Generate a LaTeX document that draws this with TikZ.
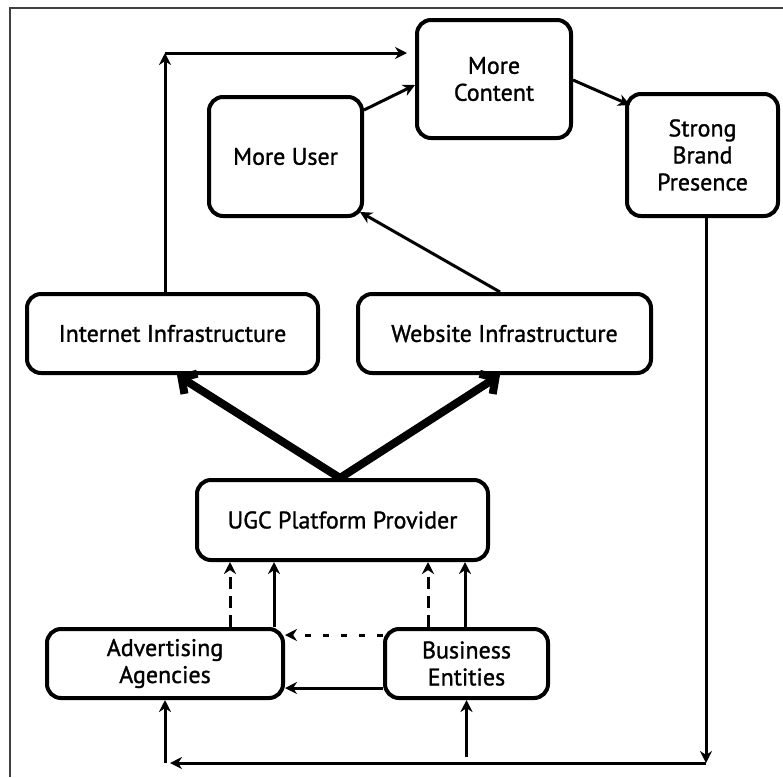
\documentclass[tikz,border=0pt]{standalone}
\usepackage{fontspec}
\setmainfont{PT Sans}
\newfontfamily\boxfont{PT Sans}[FakeBold=1.2]
\usetikzlibrary{arrows.meta}
\begin{document}
\begin{tikzpicture}[x=1pt,y=-1pt,
  box/.style={draw, line width=4pt, rounded corners=14pt, align=center,
    font=\boxfont\fontsize{24}{27}\selectfont, inner sep=0pt},
  conn/.style={line width=3pt, -{Stealth[length=12pt,width=12pt]}},
  dconn/.style={conn, dash pattern=on 12pt off 7pt},
  sparse/.style={conn, dash pattern=on 6pt off 12pt},
  fat/.style={line width=8pt, -{Straight Barb[length=11pt,width=24pt]}},
  frame/.style={line width=1.2pt, draw=black!75}]
\useasboundingbox (0,0) rectangle (783,777);
% frame
\draw[frame] (10,777) -- (10,8) -- (783,8);
% nodes
\node[box, minimum width=154pt, minimum height=118pt] (mc) at (494,79) {More\\Content};
\node[box, minimum width=153pt, minimum height=119pt] (mu) at (285.5,156.5) {More User};
\node[box, minimum width=151pt, minimum height=122pt] (sb) at (702.5,155) {Strong\\Brand\\Presence};
\node[box, minimum width=291pt, minimum height=79pt] (ii) at (172.5,333.5) {Internet Infrastructure};
\node[box, minimum width=293pt, minimum height=79pt] (wi) at (504.5,333.5) {Website Infrastructure};
\node[box, minimum width=291pt, minimum height=80pt] (ugc) at (342.5,520) {UGC Platform Provider};
\node[box, minimum width=236pt, minimum height=69pt] (aa) at (165,663.5) {Advertising\\Agencies};
\node[box, minimum width=163pt, minimum height=69pt] (be) at (466.5,663.5) {Business\\Entities};
% top loop
\coordinate (c1) at (165,53);
\draw[conn] (c1 |- ii.north) -- (c1);
\draw[conn, shorten >=8pt] (c1) -- (c1 -| mc.west);
\draw[conn] (mu.east |- 0,110) -- (mc.west |- 0,85);
\draw[conn] (mc.east |- 0,80) -- (630,105) coordinate (sbin);
\draw[conn] (500,292) coordinate (wiout) -- (360,212) coordinate (muin);
% fat arrows
\draw[fat] (ugc.north -| 340,0) -- (177,375) coordinate (iiin);
\draw[fat] (ugc.north -| 340,0) -- (500,375) coordinate (wiin);
% into UGC
\draw[dconn] (aa.north -| 230,0) -- (ugc.south -| 230,0);
\draw[conn] (aa.north -| 274,0) -- (ugc.south -| 274,0);
\draw[dconn] (be.north -| 428,0) -- (ugc.south -| 428,0);
\draw[conn] (be.north -| 465,0) -- (ugc.south -| 465,0);
% business -> advertising
\draw[sparse] (be.west |- 0,635) -- (aa.east |- 0,635);
\draw[conn] (be.west |- 0,688) -- (aa.east |- 0,688);
% bottom loop
\coordinate (b1) at (706,763);
\coordinate (b2) at (170,763);
\draw[conn] (sb.south -| b1) -- (b1);
\draw[conn] (b1) -- (b2);
\draw[conn] (aa.south |- b1) -- (aa.south);
\draw[conn] (be.south |- 0,757) -- (be.south);
\end{tikzpicture}
\end{document}
